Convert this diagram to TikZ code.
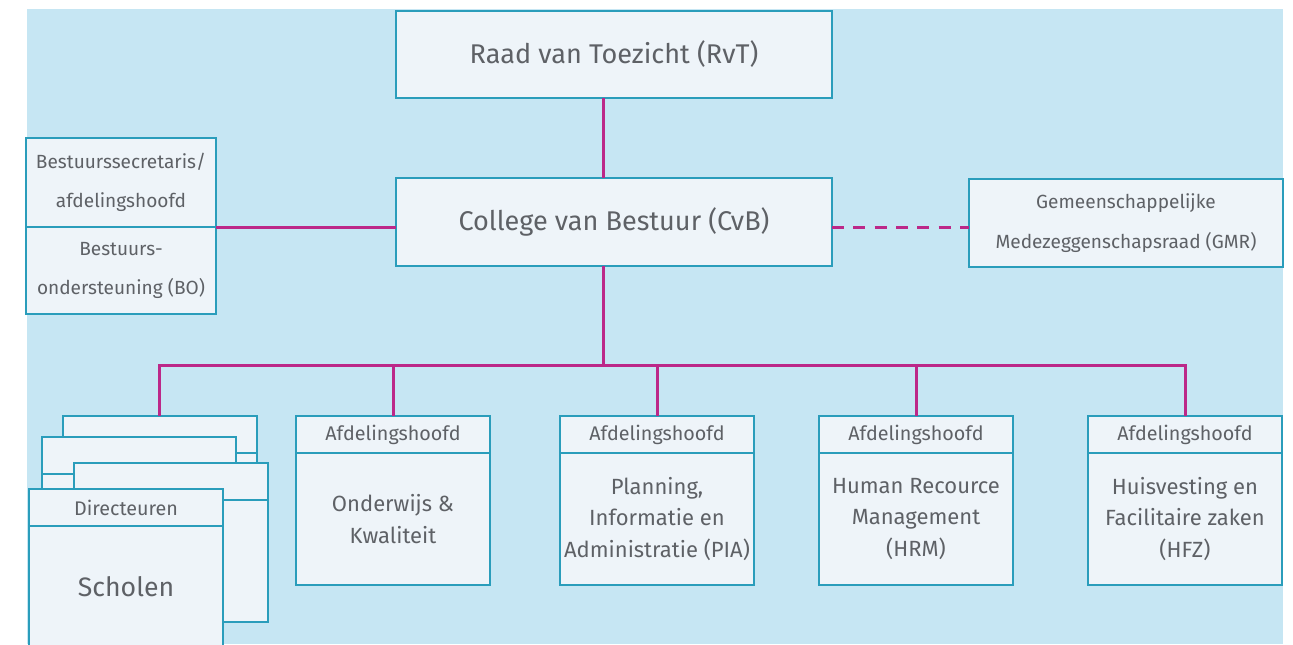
\documentclass[tikz,border=0pt]{standalone}
\usepackage{fontspec}
\setmainfont{Fira Sans}
\usetikzlibrary{positioning}

\definecolor{achtergrond}{HTML}{C6E6F3}
\definecolor{vakvulling}{HTML}{EEF4F9}
\definecolor{vakrand}{HTML}{2A9DBB}
\definecolor{lijnkleur}{HTML}{BC2888}
\definecolor{tekstgrijs}{HTML}{5E6166}

\tikzset{
	orgbox/.style={draw=vakrand, fill=vakvulling, line width=1.5pt, text=tekstgrijs, align=center, inner sep=0pt, outer sep=0pt},
	bigtext/.style={font=\fontsize{20.3pt}{24pt}\selectfont},
	midtext/.style={font=\fontsize{16.5pt}{23.5pt}\selectfont},
	smalltext/.style={font=\fontsize{14.3pt}{29.5pt}\selectfont},
	headtext/.style={font=\fontsize{14.8pt}{17pt}\selectfont},
	link/.style={draw=lijnkleur, line width=2.25pt},
	deptbox/.style={orgbox, minimum width=145.5pt, minimum height=99pt, midtext},
	depthead/.style={orgbox, minimum width=145.5pt, minimum height=27.75pt, headtext},
	cardbody/.style={orgbox, minimum width=145.5pt, minimum height=91.5pt}}
\tikzset{every picture/.style={line width=0.75pt}}

\begin{document}
\begin{tikzpicture}[x=0.75pt,y=0.75pt,yscale=-1,xscale=1]
	\useasboundingbox (0,0) rectangle (1293,644);

	%Shape: Background
	\fill[achtergrond] (27,9) rectangle (1283,644);

	% Top boxes
	\node[orgbox, bigtext, minimum width=327pt, minimum height=65.25pt] (rvt) at (614,54.5) {Raad van Toezicht (RvT)};
	\node[orgbox, bigtext, minimum width=327pt, minimum height=66pt] (cvb) at (614,222) {College van Bestuur (CvB)};
	\coordinate (spine) at (603,222);

	% Left box
	\node[orgbox, smalltext, minimum width=142.5pt, minimum height=66.75pt] (bshead) at (121,182.5) {Bestuurssecretaris/\\afdelingshoofd};
	\node[orgbox, smalltext, minimum width=142.5pt, minimum height=65.25pt, below=0pt of bshead] (bsbody) {Bestuurs-\\ondersteuning (BO)};

	% Right box
	\node[orgbox, smalltext, minimum width=235.5pt, minimum height=66pt] (gmr) at (1126,223) {Gemeenschappelijke\\Medezeggenschapsraad (GMR)};

	% Stack of school cards
	\node[depthead] (card1head) at (159.5,434.5) {};
	\node[cardbody, below=0pt of card1head] (card1body) {};
	\node[depthead] (card2head) at (139,455.5) {};
	\node[cardbody, below=0pt of card2head] (card2body) {};
	\node[depthead] (card3head) at (171,481.5) {};
	\node[cardbody, below=0pt of card3head] (card3body) {};
	\node[depthead] (card4head) at (126,507.5) {Directeuren};
	\node[cardbody, below=0pt of card4head, font=\fontsize{20pt}{24pt}\selectfont] (card4body) {Scholen};

	% Departments
	\node[depthead] (onhead) at (393,434.5) {Afdelingshoofd};
	\node[deptbox, below=0pt of onhead] (onbody) {Onderwijs \&\\Kwaliteit};
	\node[depthead] (piahead) at (657,434.5) {Afdelingshoofd};
	\node[deptbox, below=0pt of piahead] (piabody) {Planning,\\Informatie en\\Administratie (PIA)};
	\node[depthead] (hrmhead) at (916,434.5) {Afdelingshoofd};
	\node[deptbox, below=0pt of hrmhead] (hrmbody) {Human Recource\\Management\\(HRM)};
	\node[depthead] (hfzhead) at (1185,434.5) {Afdelingshoofd};
	\node[deptbox, below=0pt of hfzhead] (hfzbody) {Huisvesting en\\Facilitaire zaken\\(HFZ)};

	% Connectors
	\draw[link] (spine |- rvt.south) -- (spine |- cvb.north);
	\draw[link] (bshead.south east) -- (bshead.south east -| cvb.west);
	\draw[link, dash pattern=on 9pt off 7pt] (cvb.east |- bshead.south) -- (gmr.west |- bshead.south);
	\draw[link] (spine |- cvb.south) -- ++(0,99) coordinate (bus);
	\draw[link] (card1head.north) |- (bus) -| (hfzhead.north);
	\foreach \k in {onhead,piahead,hrmhead}
		\draw[link] (\k.north) -- (\k.north |- bus);

\end{tikzpicture}
\end{document}
